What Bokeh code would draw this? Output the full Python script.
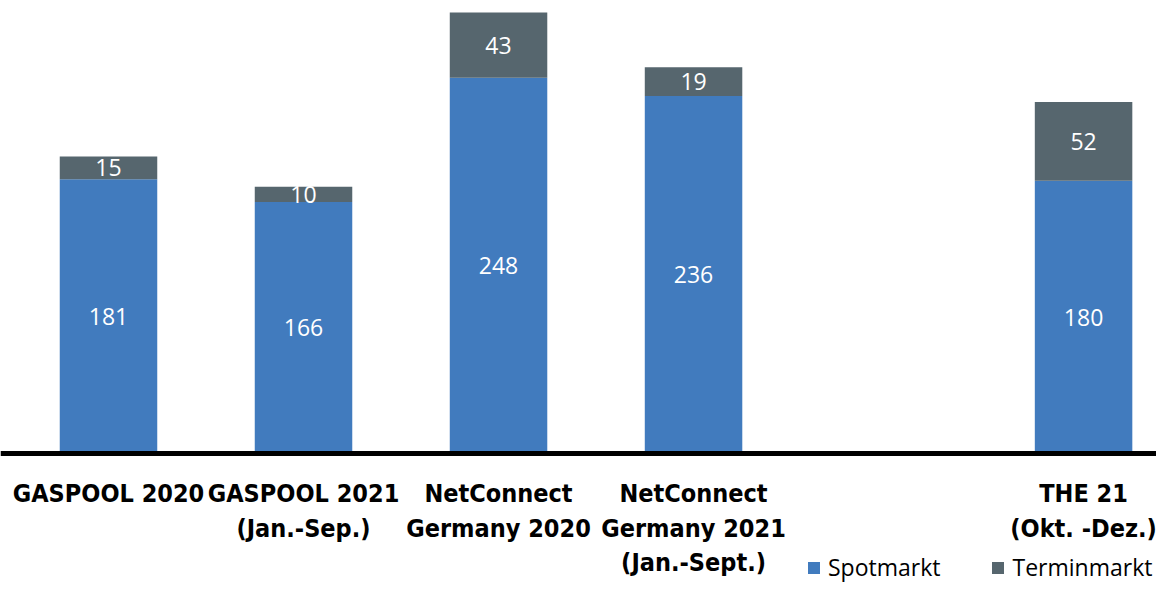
from bokeh.plotting import figure
from bokeh.models import ColumnDataSource, Range1d, Span, Legend, LegendItem
from bokeh.core.properties import value
from bokeh.embed import file_html
from bokeh.resources import INLINE

# --- data ---
categories = ["GASPOOL 2020", "GASPOOL 2021\n(Jan.-Sep.)", "NetConnect\nGermany 2020",
              "NetConnect\nGermany 2021\n(Jan.-Sept.)", "", "THE 21\n(Okt. -Dez.)"]
spotmarkt = [181, 166, 248, 236, None, 180]
terminmarkt = [15, 10, 43, 19, None, 52]
series_names = ["Spotmarkt", "Terminmarkt"]

BLUE = "#417bbe"
GREY = "#56666e"

xs, spot, term, top, spot_mid, term_mid = [], [], [], [], [], []
for i, (s, t) in enumerate(zip(spotmarkt, terminmarkt)):
    if s is None:
        continue
    xs.append(i)
    spot.append(s)
    term.append(t)
    top.append(s + t)
    spot_mid.append(s / 2)
    term_mid.append(s + t / 2)

src = ColumnDataSource(dict(x=xs, spot=spot, term=term, top=top,
                            spot_mid=spot_mid, term_mid=term_mid,
                            spot_lbl=[str(v) for v in spot],
                            term_lbl=[str(v) for v in term]))
cat_src = ColumnDataSource(dict(x=list(range(len(categories))),
                                y=[0] * len(categories), label=categories))

W, H = 1156, 584
p = figure(width=W, height=H, output_backend="svg", toolbar_location=None,
           x_range=Range1d(-0.5538, 5.374), y_range=Range1d(-86.5, 299.0),
           min_border=0, min_border_left=0, min_border_right=0,
           min_border_top=0, min_border_bottom=0)
p.axis.visible = False
p.grid.visible = False
p.outline_line_color = None
p.background_fill_color = "white"
p.border_fill_color = "white"

r_spot = p.vbar(x="x", width=0.5, bottom=0, top="spot", source=src,
                fill_color=BLUE, line_color=None)
r_term = p.vbar(x="x", width=0.5, bottom="spot", top="top", source=src,
                fill_color=GREY, line_color=None)

p.text(x="x", y="spot_mid", text="spot_lbl", source=src, text_color="white",
       text_font=value("Open Sans"), text_font_size="23px",
       text_align="center", text_baseline="middle")
p.text(x="x", y="term_mid", text="term_lbl", source=src, text_color="white",
       text_font=value("Open Sans"), text_font_size="23px",
       text_align="center", text_baseline="middle")

p.add_layout(Span(location=0, dimension="width", line_color="black", line_width=5))

p.text(x="x", y="y", text="label", source=cat_src, text_color="black",
       text_font=value("DejaVu Sans Condensed"), text_font_style="bold",
       text_font_size="25px", text_align="center", text_baseline="top",
       text_line_height=1.19, y_offset=26)

legend = Legend(items=[LegendItem(label=series_names[0], renderers=[r_spot]),
                       LegendItem(label=series_names[1], renderers=[r_term])],
                orientation="horizontal", location=(806, 1),
                glyph_width=15, glyph_height=15, label_standoff=7, spacing=50,
                label_text_font="Open Sans", label_text_font_size="23px",
                label_text_color="black", border_line_color=None,
                background_fill_alpha=0, padding=0, margin=0)
p.add_layout(legend, "center")

open("out.html", "w").write(file_html(p, INLINE))
